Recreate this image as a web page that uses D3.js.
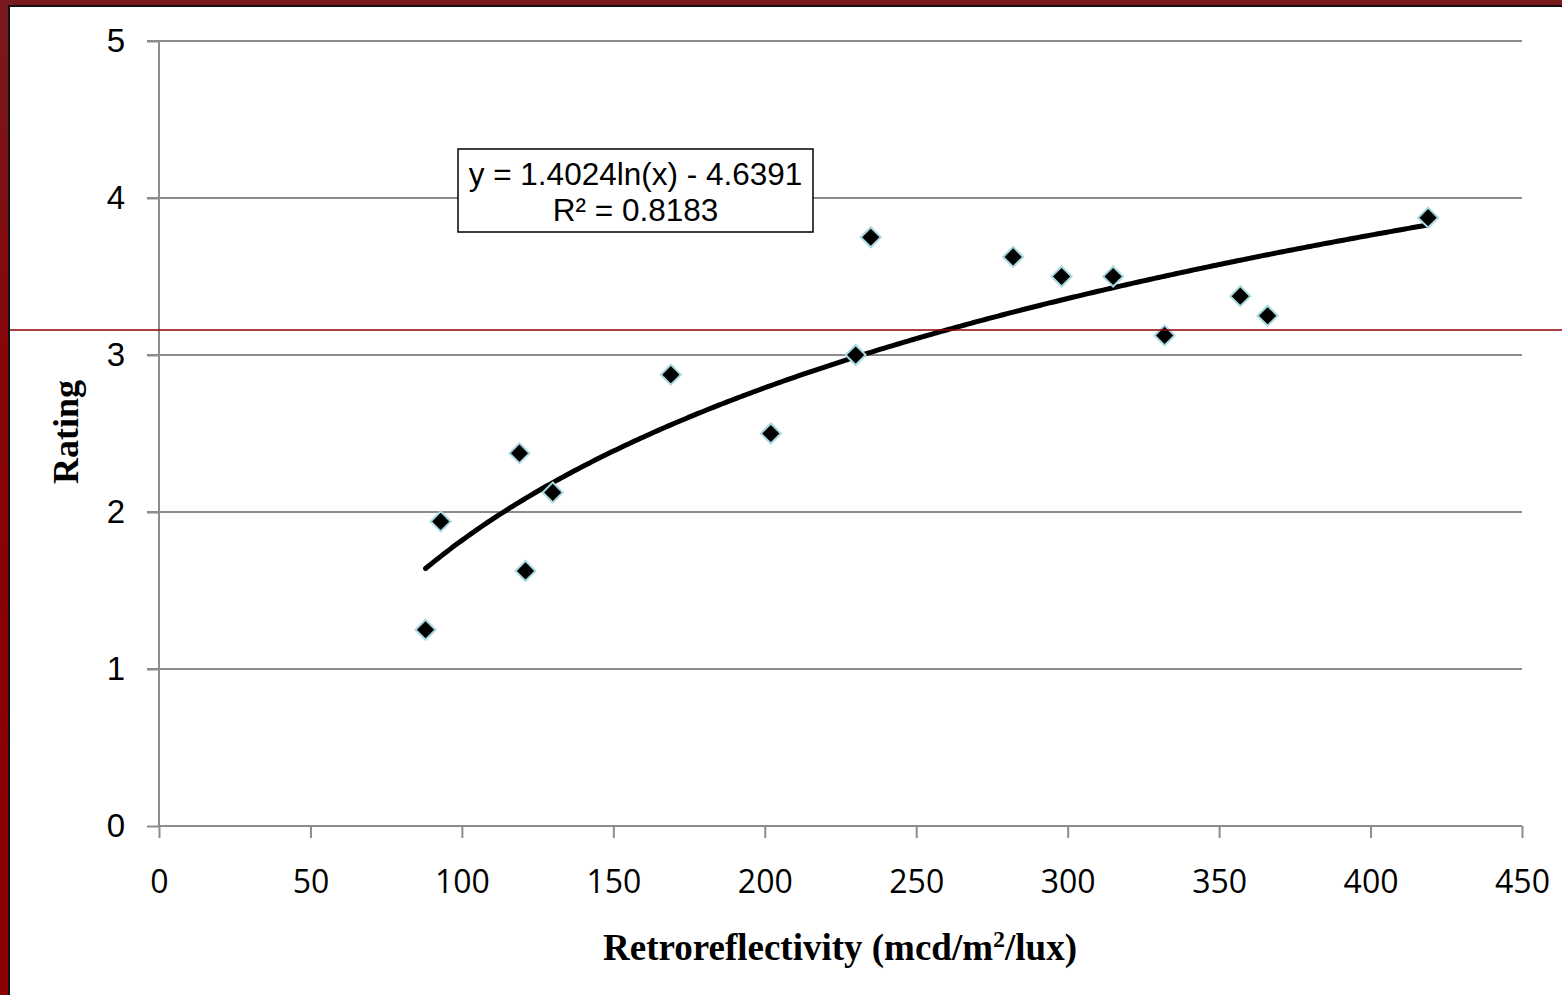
<!DOCTYPE html>
<html>
<head>
<meta charset="utf-8">
<script src="https://cdn.jsdelivr.net/npm/d3@7"></script>
<style>
  html, body { margin: 0; padding: 0; background: #fff; }
  svg { display: block; }
</style>
</head>
<body>
<svg id="chart" width="1562" height="995"></svg>
<script>
// data
var retro = [88, 93, 119, 121, 130, 169, 202, 230, 235, 282, 298, 315, 332, 357, 366, 419];
var rating = [1.25, 1.94, 2.375, 1.625, 2.125, 2.875, 2.5, 3.0, 3.75, 3.625, 3.5, 3.5, 3.125, 3.375, 3.25, 3.875];
var xTicks = [0, 50, 100, 150, 200, 250, 300, 350, 400, 450];
var yTicks = [0, 1, 2, 3, 4, 5];
// log trendline as printed on the chart
var fitA = 1.4024, fitB = -4.6391;
var fitLabel = ['y = 1.4024ln(x) - 4.6391', 'R\u00b2 = 0.8183'];

var W = 1562, H = 995;
var svg = d3.select('#chart');

// frame: dark red band on the left and top, with a thin black edge
var defs = svg.append('defs');
var grad = defs.append('linearGradient').attr('id', 'band')
   .attr('x1', 0).attr('y1', 0).attr('x2', 0).attr('y2', 1);
grad.append('stop').attr('offset', '0%').attr('stop-color', '#781a1e');
grad.append('stop').attr('offset', '40%').attr('stop-color', '#870407');
grad.append('stop').attr('offset', '100%').attr('stop-color', '#8b0000');

svg.append('rect').attr('x', 0).attr('y', 0).attr('width', W).attr('height', H).attr('fill', '#fff');
svg.append('rect').attr('x', 0).attr('y', 0).attr('width', 9).attr('height', H).attr('fill', 'url(#band)');
svg.append('rect').attr('x', 0).attr('y', 0).attr('width', W).attr('height', 5).attr('fill', '#781a1e');
svg.append('rect').attr('x', 8).attr('y', 5).attr('width', 2).attr('height', H - 5).attr('fill', '#111');
svg.append('rect').attr('x', 8).attr('y', 5).attr('width', W - 8).attr('height', 2).attr('fill', '#111');

var x = d3.scaleLinear().domain([0, 450]).range([159, 1522]);
var y = d3.scaleLinear().domain([0, 5]).range([826, 41]);

var grey = '#8c8c8c';

// horizontal gridlines with outside ticks
var g = svg.append('g');
g.selectAll('line.grid')
   .data(yTicks.filter(function(d){ return d > 0; }))
   .enter()
   .append('line')
   .attr('class', 'grid')
   .attr('x1', x(0) - 12).attr('x2', x(450))
   .attr('y1', function(d){ return y(d); })
   .attr('y2', function(d){ return y(d); })
   .attr('stroke', grey).attr('stroke-width', 2);

// y axis
var yAxis = d3.axisLeft(y).tickValues(yTicks).tickSize(12).tickPadding(22)
   .tickFormat(d3.format('d'));
var ya = svg.append('g').attr('transform', 'translate(' + x(0) + ',0)').call(yAxis);
ya.select('.domain').attr('stroke', grey).attr('stroke-width', 2)
   .attr('d', 'M0,' + y(0) + 'V' + y(5));
ya.selectAll('.tick line').attr('stroke', grey).attr('stroke-width', 2);
ya.selectAll('.tick text')
   .attr('font-family', 'Liberation Sans, Arial, sans-serif')
   .attr('font-size', 33).attr('fill', '#000');

// x axis
var xAxis = d3.axisBottom(x).tickValues(xTicks).tickSize(12).tickPadding(32)
   .tickFormat(d3.format('d'));
var xa = svg.append('g').attr('transform', 'translate(0,' + y(0) + ')').call(xAxis);
xa.select('.domain').attr('stroke', grey).attr('stroke-width', 2)
   .attr('d', 'M' + x(0) + ',0H' + x(450));
xa.selectAll('.tick line').attr('stroke', grey).attr('stroke-width', 2);
xa.selectAll('.tick text')
   .attr('font-family', 'Open Sans, Liberation Sans, sans-serif')
   .attr('font-size', 32).attr('fill', '#000');

// trendline
var xs = d3.range(d3.min(retro), d3.max(retro) + 0.5, 1);
var line = d3.line()
   .x(function(d){ return x(d); })
   .y(function(d){ return y(fitA * Math.log(d) + fitB); });
svg.append('path')
   .datum(xs)
   .attr('d', line)
   .attr('fill', 'none')
   .attr('stroke', '#000')
   .attr('stroke-width', 5)
   .attr('stroke-linecap', 'round');

// points
var diamond = d3.symbol().type(d3.symbolSquare).size(200);
svg.selectAll('path.pt')
   .data(retro)
   .enter()
   .append('path')
   .attr('class', 'pt')
   .attr('d', diamond)
   .attr('transform', function(d, i){
      return 'translate(' + x(d) + ',' + y(rating[i]) + ') rotate(45)';
   })
   .attr('fill', '#000')
   .attr('stroke', '#a9d8df')
   .attr('stroke-width', 2);

// equation box
var box = svg.append('g');
box.append('rect')
   .attr('x', 458).attr('y', 149).attr('width', 355).attr('height', 83)
   .attr('fill', '#fff').attr('stroke', '#000').attr('stroke-width', 1.5);
box.selectAll('text')
   .data(fitLabel)
   .enter()
   .append('text')
   .attr('x', 635.5)
   .attr('y', function(d, i){ return 185 + i * 36; })
   .attr('text-anchor', 'middle')
   .attr('font-family', 'Liberation Sans, Arial, sans-serif')
   .attr('font-size', 31.5)
   .attr('fill', '#000')
   .text(function(d){ return d; });

// axis titles
var xt = svg.append('text')
   .attr('x', 840).attr('y', 960)
   .attr('text-anchor', 'middle')
   .attr('font-family', 'Liberation Serif, Times New Roman, serif')
   .attr('font-weight', 'bold')
   .attr('font-size', 37)
   .attr('fill', '#000');
xt.append('tspan').text('Retroreflectivity (mcd/m');
xt.append('tspan').attr('dy', -13).attr('font-size', 24).text('2');
xt.append('tspan').attr('dy', 13).text('/lux)');

svg.append('text')
   .attr('transform', 'translate(78,432) rotate(-90)')
   .attr('text-anchor', 'middle')
   .attr('font-family', 'Liberation Serif, Times New Roman, serif')
   .attr('font-weight', 'bold')
   .attr('font-size', 36)
   .attr('fill', '#000')
   .text('Rating');

// thin red guide line across the slide
svg.append('line')
   .attr('x1', 10).attr('x2', W)
   .attr('y1', 330).attr('y2', 330)
   .attr('stroke', '#8b0000').attr('stroke-width', 1.5);
</script>
</body>
</html>
